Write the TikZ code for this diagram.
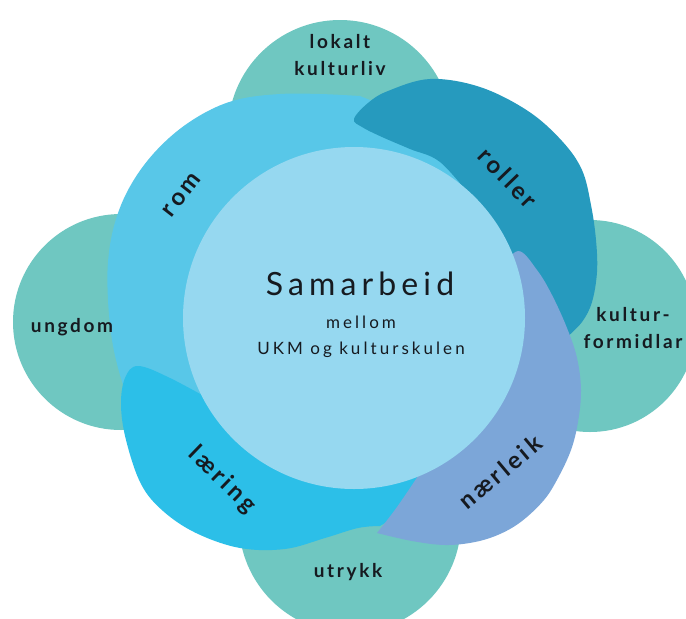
\documentclass[tikz,border=0pt]{standalone}
\usepackage{fontspec}
\setmainfont{Lato}
\newfontfamily\labfont[LetterSpace=14]{Lato}
\newfontfamily\cenfont[LetterSpace=16]{Lato}
\newfontfamily\smfont[LetterSpace=18]{Lato}
\definecolor{tealC}{RGB}{111,199,193}
\definecolor{romC}{RGB}{88,199,232}
\definecolor{laerC}{RGB}{44,191,232}
\definecolor{rollC}{RGB}{38,154,190}
\definecolor{naerC}{RGB}{124,166,216}
\definecolor{centC}{RGB}{150,216,240}
\definecolor{txtC}{RGB}{22,26,32}
\begin{document}
\begin{tikzpicture}[x=1pt,y=-1pt,
  lab/.style={font=\labfont\bfseries\fontsize{19}{27}\selectfont, text=txtC, align=center, inner sep=0pt},
  arclab/.style={font=\labfont\bfseries\fontsize{24}{28}\selectfont, text=txtC, inner sep=0pt},
  ctext/.style={text=txtC, anchor=base, inner sep=0pt},
  bubble/.style={fill=tealC}]
\useasboundingbox (0,0) rectangle (686,619);
\fill[white] (0,0) rectangle (686,619);
\clip (0,0) rectangle (686,619);
% outer teal circles
\fill[bubble] (340,132) circle[radius=112pt];
\fill[bubble] (121,322) circle[radius=108pt];
\fill[bubble] (590,326) circle[radius=106pt];
\fill[bubble] (350,522) circle[radius=111pt];
% rom lobe
\fill[romC] plot[smooth, tension=0.6] coordinates {(132,410) (120,375) (112,340) (108,300) (108,262) (114,226) (127,192) (148,160) (176,132) (208,111) (240,99) (280,94) (320,94) (360,96)}
  -- (420,120) -- (500,200) -- (400,300) -- (250,420) -- cycle;
% laering lobe
\fill[laerC] plot[smooth, tension=0.6] coordinates {(220,405) (170,378) (138,366) (125,378) (121,405) (126,440) (141,484) (163,511) (196,533) (240,548) (285,549) (325,538) (358,528) (380,526)}
  -- (440,490) -- (430,400) -- (300,380) -- cycle;
% roller band
\fill[rollC] plot[smooth, tension=0.6] coordinates {(472,198) (440,162) (410,149) (382,137) (362,127) (354,119) (368,103) (388,91) (430,79) (480,87) (528,111) (562,141) (582,170) (591,205) (596,240) (597,272) (592,302) (582,322) (566,338)}
  -- (500,330) -- (472,240) -- cycle;
% naerleik band
\fill[naerC] plot[smooth, tension=0.6] coordinates {(498,272) (518,251) (537,270) (552,295) (567,328) (577,358) (581,390) (578,422) (571,450) (558,478) (544,500) (522,521) (500,534) (475,542) (445,545) (412,541) (377,533)}
  -- plot[smooth, tension=0.6] coordinates {(377,533) (397,507) (420,473)}
  -- (470,400) -- (490,300) -- cycle;
% centre
\fill[centC] (354,318) circle[radius=171pt];
% texts
\node[lab] (lok) at (340,55) {lokalt\\kulturliv};
\node[lab] (ung) at (72,327) {ungdom};
\node[lab] (kf) at (633,328) {kultur-\\formidlar};
\node[lab] (utr) at (348,572) {utrykk};
\node[arclab, rotate=52] (rom) at (182,195) {rom};
\node[arclab, rotate=-46] (rol) at (508,178) {roller};
\node[arclab, rotate=40] (nae) at (500,472) {nærleik};
\node[arclab, rotate=-44] (lae) at (222,480) {læring};
\node[ctext, font=\cenfont\fontsize{32}{36}\selectfont] (sam) at (360,295) {Samarbeid};
\node[ctext, font=\smfont\fontsize{17}{20}\selectfont] (mel) at (361,328) {mellom};
\node[ctext, font=\smfont\fontsize{17}{20}\selectfont] (ukm) at (361,354) {UKM og kulturskulen};
\end{tikzpicture}
\end{document}
